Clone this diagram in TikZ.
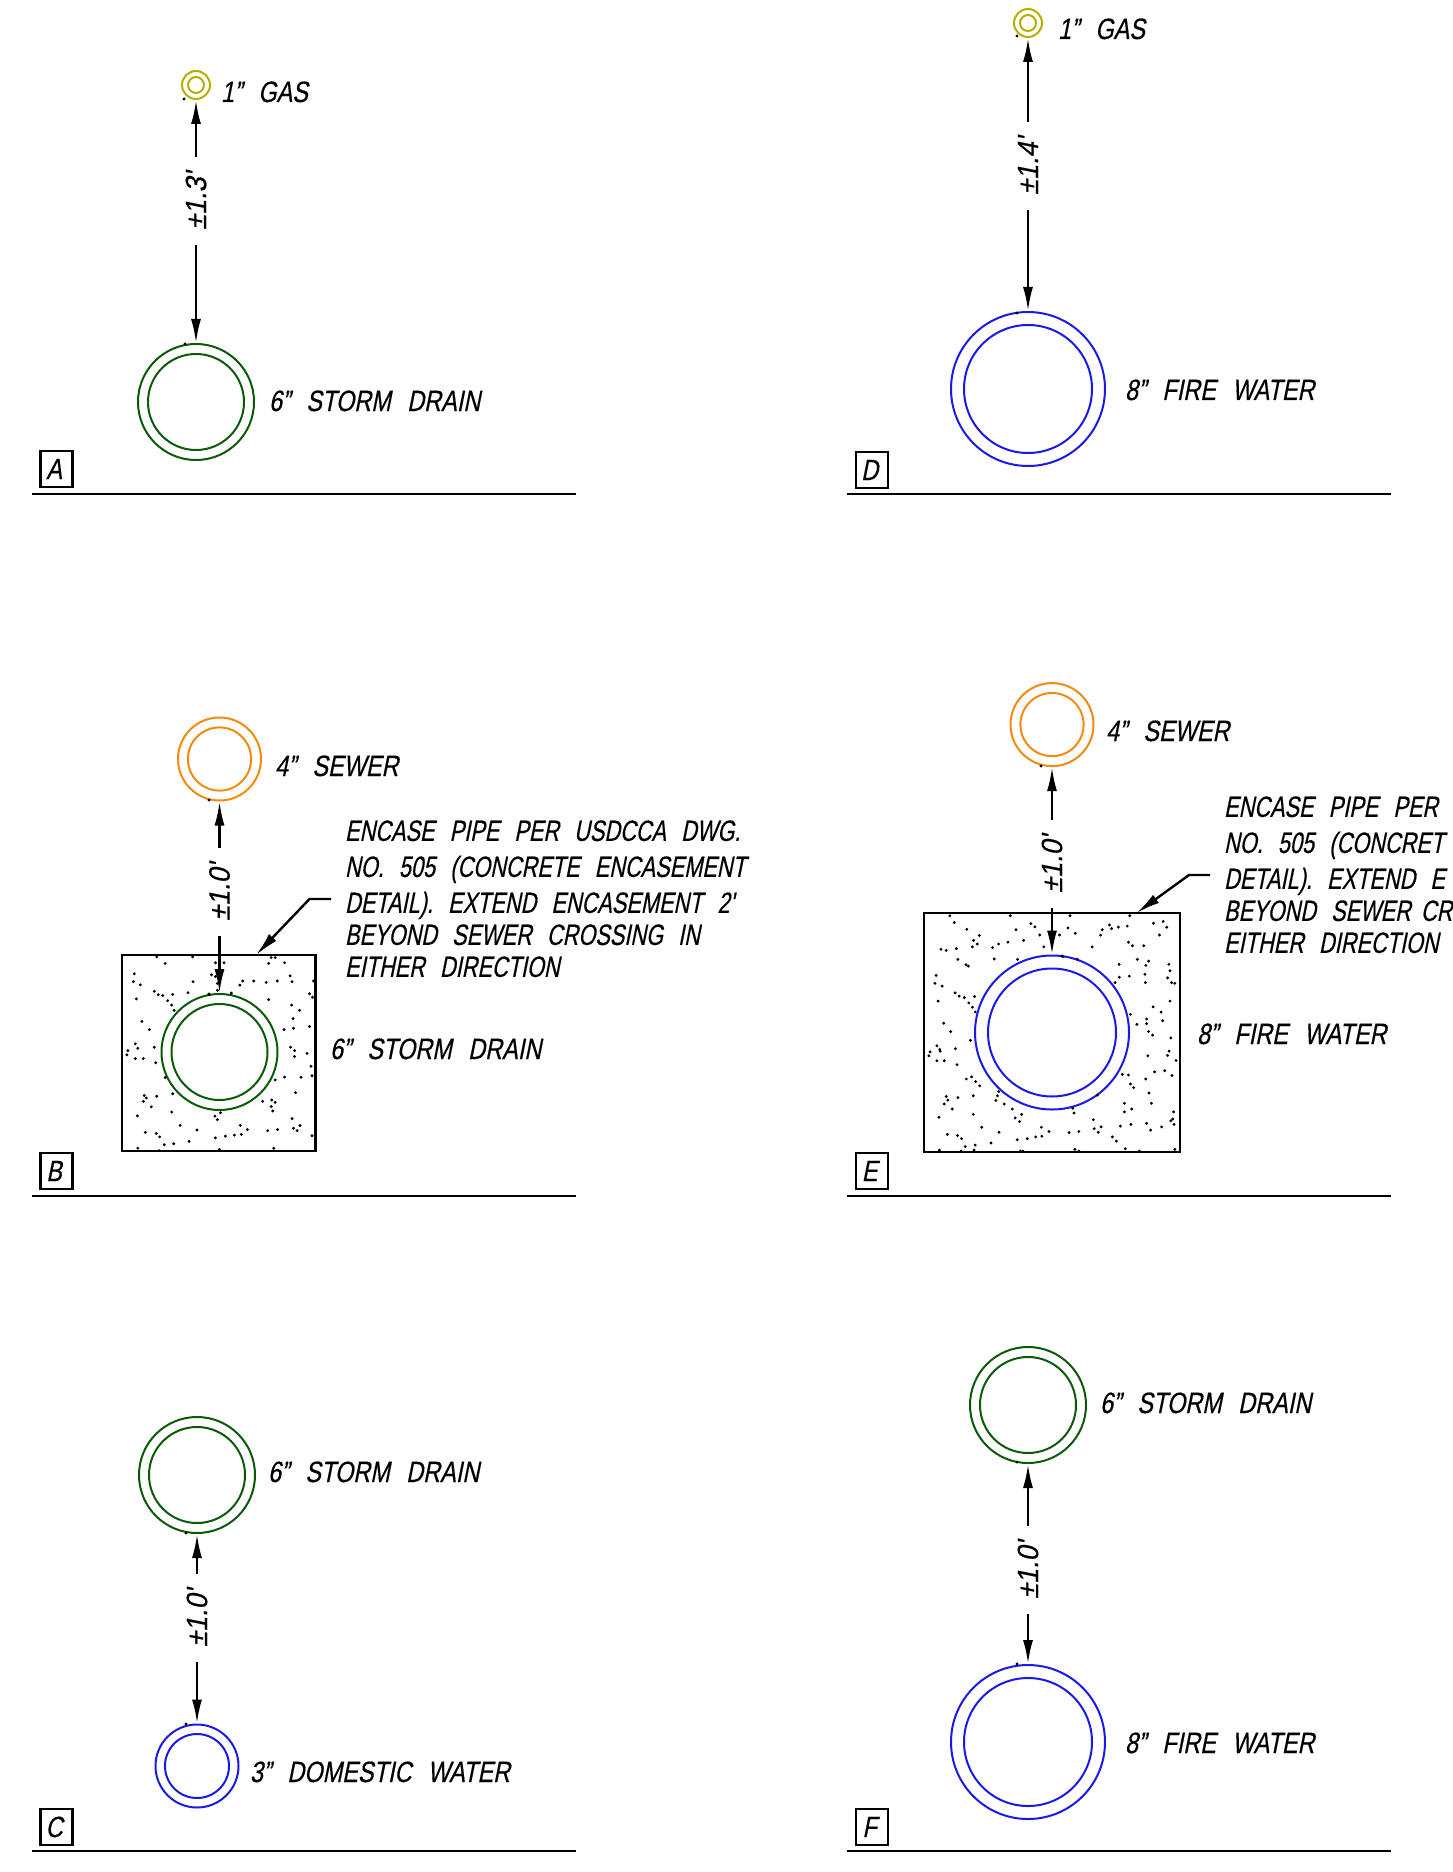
\documentclass[tikz,border=0pt]{standalone}
\usepackage{fontspec}
\setmainfont{Liberation Sans}[FakeSlant=0.2,FakeStretch=0.8,FakeBold=0.4,WordSpace=2.5]
\newfontfamily\notefont{Liberation Sans}[FakeSlant=0.2,FakeStretch=0.74,FakeBold=0.4,WordSpace=2.5]
\newfontfamily\dimfont{Liberation Sans}[FakeSlant=0.2,FakeStretch=0.92,FakeBold=0.4]
\usetikzlibrary{arrows.meta}
\definecolor{gaspipe}{HTML}{B5B000}
\definecolor{stormpipe}{HTML}{0B5A0B}
\definecolor{sewerpipe}{HTML}{F58A10}
\definecolor{waterpipe}{HTML}{1A1AE6}
\tikzset{
	pipe/.style={circle,line width=1pt,inner sep=0pt},
	gasouter/.style={pipe,draw=gaspipe,minimum size=14pt},
	gasinner/.style={pipe,draw=gaspipe,minimum size=8pt},
	stormouter/.style={pipe,draw=stormpipe,minimum size=58pt},
	storminner/.style={pipe,draw=stormpipe,minimum size=48pt},
	sewerouter/.style={pipe,draw=sewerpipe,minimum size=41.5pt},
	sewerinner/.style={pipe,draw=sewerpipe,minimum size=31.6pt},
	domesticouter/.style={pipe,draw=waterpipe,minimum size=41.5pt},
	domesticinner/.style={pipe,draw=waterpipe,minimum size=32pt},
	fireouter/.style={pipe,draw=waterpipe,minimum size=77pt},
	fireinner/.style={pipe,draw=waterpipe,minimum size=64pt},
	pipelabel/.style={anchor=base west,inner sep=0pt,xshift=-1.2pt,font=\fontsize{14.7}{18}\selectfont},
	notelabel/.style={anchor=north west,inner sep=0pt,xshift=-1.2pt,align=left,font=\fontsize{14.7}{18}\notefont},
	dimlabel/.style={rotate=90,inner xsep=7.5pt,inner ysep=0pt,font=\fontsize{14.7}{18}\dimfont},
	tagbox/.style={draw,line width=1.3pt,minimum width=16pt,minimum height=18pt,inner sep=0pt,execute at begin node=\kern-2.4pt,font=\fontsize{14.7}{18}\selectfont},
	concrete/.style={draw,line width=1.4pt,inner sep=0pt},
	dimline/.style={line width=1.2pt,->},
	leaderline/.style={line width=1.2pt,->},
	groundline/.style={line width=1.3pt},
}
\begin{document}
\begin{tikzpicture}[x=0.5pt,y=-0.5pt,>={Latex[length=12pt,width=5pt]}]
	\useasboundingbox (0,0) rectangle (1452,1872);

	% A
	\node[gasouter] (gasA) at (196,85) {};
	\node[gasinner] (gasAbore) at (gasA) {};
	\node[stormouter] (stormA) at (196,402) {};
	\node[storminner] (stormAbore) at (stormA) {};
	\node[dimlabel] (dimA) at (196,201) {±1.3'};
	\node[pipelabel] (labelgasA) at (223,102) {1" GAS};
	\node[pipelabel] (labelstormA) at (271,411) {6" STORM DRAIN};
	\node[tagbox] (tagA) at (56.5,469) {A};
	\draw[dimline] (dimA) -- (gasA);
	\draw[dimline] (dimA) -- (stormA);
	\coordinate (groundAl) at (31.5,494);
	\coordinate (groundAr) at (575.5,494);
	\draw[groundline] (groundAl) -- (groundAr);

	% B
	\node[concrete,minimum width=96.7pt,minimum height=98pt] (boxB) at (218.7,1053) {};
	\node[sewerouter] (sewerB) at (219.5,759) {};
	\node[sewerinner] (sewerBbore) at (sewerB) {};
	\node[stormouter] (stormB) at (219.5,1052) {};
	\node[storminner] (stormBbore) at (stormB) {};
	\node[dimlabel] (dimB) at (219.5,892) {±1.0'};
	\node[pipelabel] (labelsewerB) at (277,776) {4" SEWER};
	\node[pipelabel] (labelstormB) at (332,1059) {6" STORM DRAIN};
	\node[notelabel] (noteB) at (347,820) {ENCASE PIPE PER USDCCA DWG.\\NO. 505 (CONCRETE ENCASEMENT\\DETAIL). EXTEND ENCASEMENT 2'\\[-2pt]BEYOND SEWER CROSSING IN\\[-2pt]EITHER DIRECTION};
	\node[tagbox] (tagB) at (56.5,1171) {B};
	\draw[dimline] (dimB) -- (sewerB);
	\draw[dimline] (dimB) -- (stormB);
	\coordinate (leadB) at (331,899);
	\coordinate (kneeB) at (309.5,899);
	\coordinate (tipB) at (256,955);
	\draw[leaderline] (leadB) -- (kneeB) -- (tipB);
	\coordinate (groundBl) at (31.5,1196);
	\coordinate (groundBr) at (575.5,1196);
	\draw[groundline] (groundBl) -- (groundBr);

	% C
	\node[stormouter] (stormC) at (197,1475) {};
	\node[storminner] (stormCbore) at (stormC) {};
	\node[domesticouter] (domesticC) at (197,1766) {};
	\node[domesticinner] (domesticCbore) at (domesticC) {};
	\node[dimlabel] (dimC) at (197,1618) {±1.0'};
	\node[pipelabel] (labelstormC) at (270,1482) {6" STORM DRAIN};
	\node[pipelabel] (labeldomesticC) at (252,1782) {3" DOMESTIC WATER};
	\node[tagbox] (tagC) at (56.5,1827) {C};
	\draw[dimline] (dimC) -- (stormC);
	\draw[dimline] (dimC) -- (domesticC);
	\coordinate (groundCl) at (31.5,1851);
	\coordinate (groundCr) at (575.5,1851);
	\draw[groundline] (groundCl) -- (groundCr);

	% D
	\node[gasouter] (gasD) at (1028,23) {};
	\node[gasinner] (gasDbore) at (gasD) {};
	\node[fireouter] (fireD) at (1028,389) {};
	\node[fireinner] (fireDbore) at (fireD) {};
	\node[dimlabel] (dimD) at (1028,166) {±1.4'};
	\node[pipelabel] (labelgasD) at (1060,39) {1" GAS};
	\node[pipelabel] (labelfireD) at (1127,400) {8" FIRE WATER};
	\node[tagbox] (tagD) at (872,470) {D};
	\draw[dimline] (dimD) -- (gasD);
	\draw[dimline] (dimD) -- (fireD);
	\coordinate (groundDl) at (847,494);
	\coordinate (groundDr) at (1391,494);
	\draw[groundline] (groundDl) -- (groundDr);

	% E
	\node[concrete,minimum width=128pt,minimum height=119.5pt] (boxE) at (1052,1032.5) {};
	\node[sewerouter] (sewerE) at (1052,724.6) {};
	\node[sewerinner] (sewerEbore) at (sewerE) {};
	\node[fireouter] (fireE) at (1052,1032.5) {};
	\node[fireinner] (fireEbore) at (fireE) {};
	\node[dimlabel] (dimE) at (1052,864) {±1.0'};
	\node[pipelabel] (labelsewerE) at (1108,741) {4" SEWER};
	\node[pipelabel] (labelfireE) at (1199,1044) {8" FIRE WATER};
	\node[notelabel] (noteE) at (1226,796) {ENCASE PIPE PER\\NO. 505 (CONCRET\\DETAIL). EXTEND E\\[-2pt]BEYOND SEWER\kern-2.5pt{} CR\\[-2pt]EITHER DIRECTION};
	\node[tagbox] (tagE) at (872,1171) {E};
	\draw[dimline] (dimE) -- (sewerE);
	\draw[dimline] (dimE) -- (fireE);
	\coordinate (leadE) at (1210,875);
	\coordinate (kneeE) at (1189,875);
	\coordinate (tipE) at (1136.5,913);
	\draw[leaderline] (leadE) -- (kneeE) -- (tipE);
	\coordinate (groundEl) at (847,1196);
	\coordinate (groundEr) at (1391,1196);
	\draw[groundline] (groundEl) -- (groundEr);

	% F
	\node[stormouter] (stormF) at (1028,1405) {};
	\node[storminner] (stormFbore) at (stormF) {};
	\node[fireouter] (fireF) at (1028,1742) {};
	\node[fireinner] (fireFbore) at (fireF) {};
	\node[dimlabel] (dimF) at (1028,1570) {±1.0'};
	\node[pipelabel] (labelstormF) at (1102,1413) {6" STORM DRAIN};
	\node[pipelabel] (labelfireF) at (1127,1753) {8" FIRE WATER};
	\node[tagbox] (tagF) at (872,1827) {F};
	\draw[dimline] (dimF) -- (stormF);
	\draw[dimline] (dimF) -- (fireF);
	\coordinate (groundFl) at (847,1851);
	\coordinate (groundFr) at (1391,1851);
	\draw[groundline] (groundFl) -- (groundFr);

	% stray dots at the arrow tips
	\foreach \x/\y in {184/99,185/344,209/800,209/994,186/1533,186/1724,1017/36,1017/313,1041/766,1062/956,1017/1462,1017/1664}
		\fill (\x,\y) circle (0.8pt);

	% stipple B, read off in crop units
	\begin{scope}[shift={(0,680)},x=0.2488pt,y=-0.1724pt]
		\foreach \x/\y in {315/803,332/822,387/803,433/820,450/820,540/822,545/805,553/805,572/820,
			270/852,268/875,282/884,388/875,425/855,433/860,437/880,437/900,465/908,482/885,488/873,510/873,535/877,557/873,583/858,587/875,630/873,
			310/903,318/913,327/915,347/912,378/907,274/925,337/930,345/943,350/958,420/912,540/927,622/910,628/920,586/943,602/958,589/982,285/990,300/1014,571/1014,590/1010,622/1005,
			272/1055,277/1068,257/1075,255/1087,272/1098,288/1098,310/1065,313/1110,584/1065,592/1075,592/1092,617/1083,625/1120,627/1148,332/1153,553/1160,572/1152,605/1152,347/1200,594/1197,
			290/1205,294/1212,315/1207,288/1222,304/1238,528/1222,546/1218,553/1225,545/1237,548/1250,345/1253,443/1255,432/1265,437/1275,276/1264,587/1272,
			362/1292,396/1305,483/1292,497/1304,590/1300,603/1292,597/1307,538/1307,558/1304,292/1312,314/1315,321/1325,433/1328,453/1323,471/1320,485/1318,627/1322,380/1338,349/1345,330/1348,277/1358,441/1362,550/1358,320/1365}
			\fill (\x,\y) circle (0.8pt);
	\end{scope}

	% stipple E, read off in crop units
	\begin{scope}[shift={(820,660)},x=0.2016pt,y=-0.1786pt]
		\foreach \x/\y in {322/716,333/735,472/716,620/716,768/716,364/754,395/771,381/785,378/803,390/795,443/795,428/805,466/790,505/785,486/755,523/738,533/747,545/770,594/770,615/750,633/765,555/803,675/803,696/770,700/755,718/742,723/752,740/748,762/745,827/737,851/732,860/748,842/770,765/790,775/800,803/800,
			300/810,313/813,338/808,342/838,362/853,368/857,432/837,490/838,602/830,638/838,787/838,742/852,808/855,815/843,806/880,767/885,742/888,732/903,807/903,865/852,868/870,862/890,872/903,880/905,
			288/883,285/905,303/913,335/932,345/941,358/945,383/942,369/960,378/972,385/985,293/955,868/955,826/971,846/986,770/992,786/1020,810/1005,810/1018,850/1010,815/1040,825/1050,307/1017,324/1040,373/1065,870/1058,866/1095,862/1107,
			290/1080,297/1090,298/1095,273/1097,270/1108,336/1088,290/1122,308/1122,340/1133,813/1108,883/1121,830/1153,855/1150,873/1163,750/1160,765/1162,376/1167,363/1173,386/1180,396/1192,770/1187,778/1197,808/1173,
			443/1208,440/1220,436/1233,380/1220,342/1225,313/1222,317/1232,308/1243,328/1257,816/1212,688/1218,822/1241,755/1241,755/1265,773/1257,457/1243,477/1257,627/1255,630/1268,500/1272,484/1282,495/1292,295/1280,380/1272,877/1265,870/1290,875/1285,878/1300,
			678/1287,697/1307,680/1312,690/1322,745/1305,771/1300,810/1297,820/1316,847/1307,401/1308,549/1308,444/1322,568/1320,550/1333,535/1335,514/1340,489/1343,618/1323,642/1320,725/1335,735/1347,316/1328,341/1331,351/1340,424/1352,385/1358,360/1362,296/1372,350/1375,382/1372,497/1375,503/1375,632/1370,642/1375,757/1368,792/1375,880/1370}
			\fill (\x,\y) circle (0.8pt);
	\end{scope}
\end{tikzpicture}
\end{document}
